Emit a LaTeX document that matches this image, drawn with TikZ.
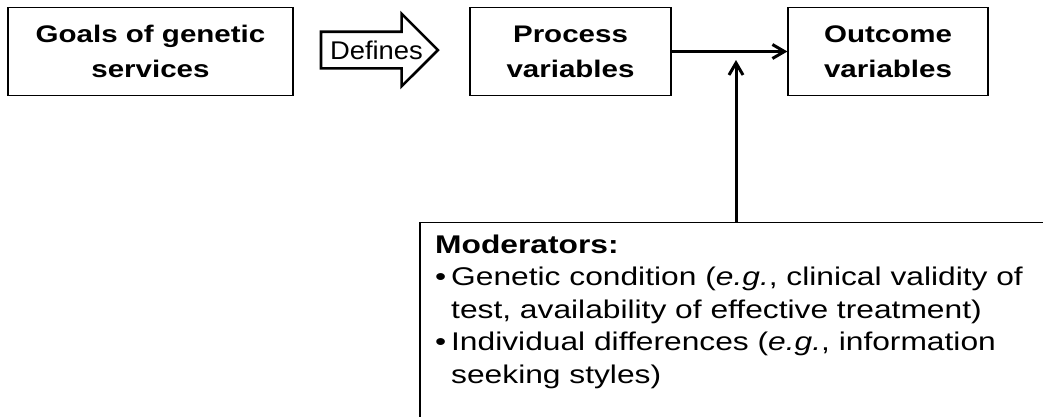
\documentclass[tikz,border=0pt]{standalone}
\usepackage{fontspec}
\usetikzlibrary{arrows.meta,shapes.arrows}
\newfontfamily\boxfont[FakeStretch=1.23]{Liberation Sans}
\newfontfamily\arrowfont[FakeStretch=1.07]{Liberation Sans}
\newfontfamily\modfont[FakeStretch=1.24]{Liberation Sans}

\begin{document}
\begin{tikzpicture}[x=1pt, y=-1pt,
    varbox/.style={draw=black, line width=1.2pt, minimum height=88pt, align=center,
      inner sep=0pt, font=\boxfont\bfseries\fontsize{24}{35}\selectfont},
    link/.style={line width=3pt, -{Straight Barb[length=12pt, width=14pt]}}]
  \clip (0,0) rectangle (1043,416);

  % Variable boxes
  \node[varbox, minimum width=285pt] (goals) at (150.5,51.5) {Goals of genetic\\services};
  \node[varbox, minimum width=201pt] (process) at (570.5,51.5) {Process\\variables};
  \node[varbox, minimum width=200pt] (outcome) at (888,51.5) {Outcome\\variables};

  % Block arrow
  \node[single arrow, draw=black, line width=2.6pt, single arrow head extend=18pt,
    inner xsep=0pt, inner ysep=7.85pt, text height=18.3pt, text depth=0pt,
    font=\arrowfont\fontsize{25.6}{30}\selectfont] (defines) at (370.3,50)
    {\makebox[96pt][l]{\hspace*{7.7pt}Defines}};

  % Moderators box
  \node[draw=black, line width=1.2pt, minimum width=632pt, minimum height=200pt,
    anchor=north] (moderators) at (736,222) {};
  \node[anchor=north west, inner sep=0pt, align=left,
    font=\modfont\fontsize{25.6}{32.6}\selectfont] (modlist) at (435,234.4)
    {\textbf{Moderators:}\\
     \makebox[16pt][l]{\textbullet}Genetic condition (\textit{e.g.}, clinical validity of\\
     \hspace*{16pt}test, availability of effective treatment)\\
     \makebox[16pt][l]{\textbullet}Individual differences (\textit{e.g.}, information\\
     \hspace*{16pt}seeking styles)};

  % Connectors
  \coordinate (meet) at (736,60);
  \draw[link] (process) -- (outcome);
  \draw[link] (moderators.north) -- (meet);
\end{tikzpicture}
\end{document}
